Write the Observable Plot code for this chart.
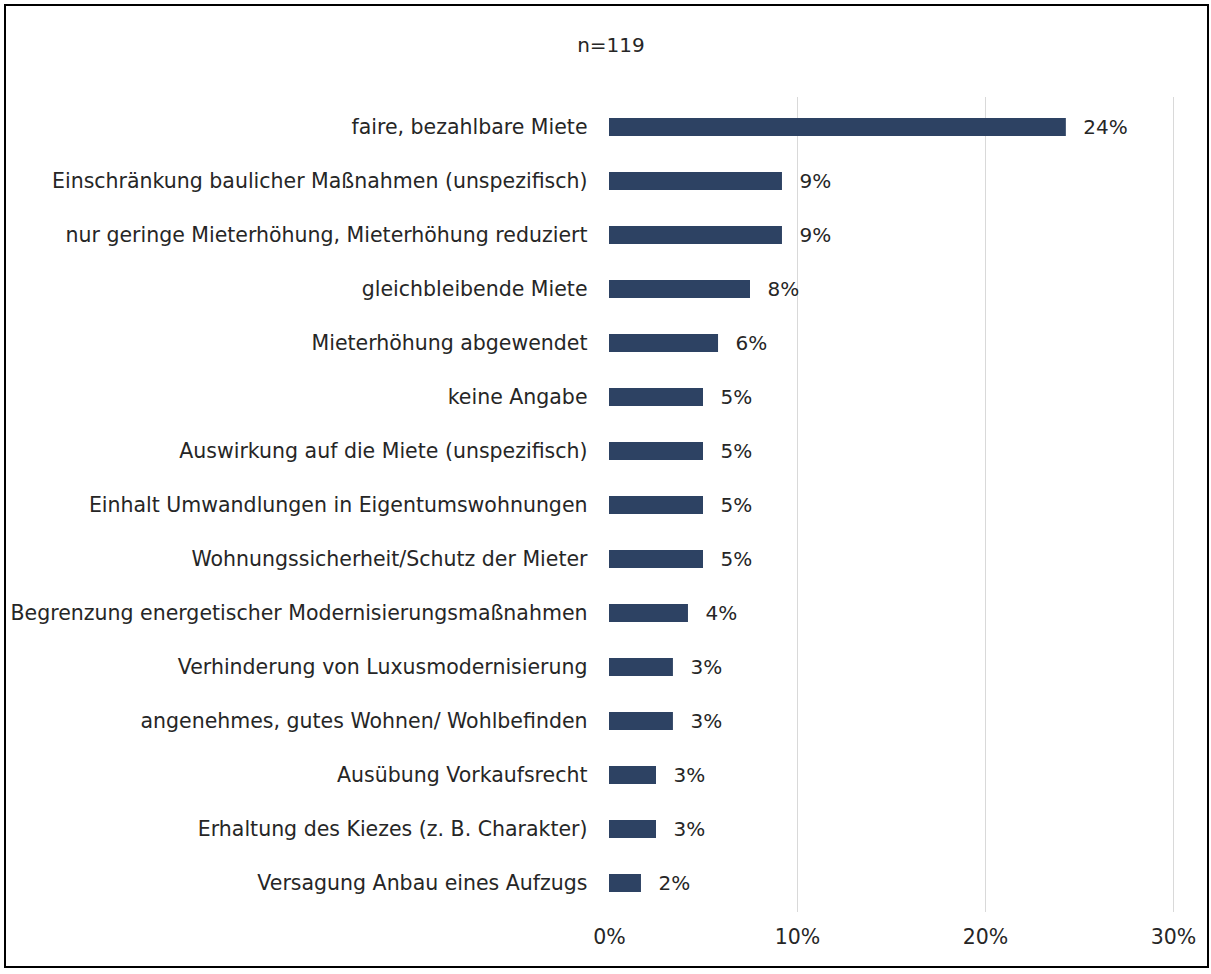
<!DOCTYPE html>
<html>
<head>
<meta charset="utf-8">
<script src="https://cdn.jsdelivr.net/npm/d3@7"></script>
<script src="https://cdn.jsdelivr.net/npm/@observablehq/plot@0.6"></script>
<style>
  html, body { margin: 0; padding: 0; background: #fff; }
  #wrap { position: relative; width: 1211px; height: 974px; overflow: hidden; font-family: "DejaVu Sans", sans-serif; }
  #frame { position: absolute; left: 4px; top: 4px; width: 1201px; height: 960px; border: 2px solid #000; box-sizing: content-box; pointer-events: none; }
  #title { position: absolute; left: 0; width: 1222px; top: 33px; text-align: center; font-size: 20px; color: #262626; }
  #chart { position: absolute; left: 0; top: 0; }
</style>
</head>
<body>
<div id="wrap">
  <div id="chart"></div>
  <div id="title">n=119</div>
  <div id="frame"></div>
</div>
<script>
const categories = [
  "faire, bezahlbare Miete",
  "Einschränkung baulicher Maßnahmen (unspezifisch)",
  "nur geringe Mieterhöhung, Mieterhöhung reduziert",
  "gleichbleibende Miete",
  "Mieterhöhung abgewendet",
  "keine Angabe",
  "Auswirkung auf die Miete (unspezifisch)",
  "Einhalt Umwandlungen in Eigentumswohnungen",
  "Wohnungssicherheit/Schutz der Mieter",
  "Begrenzung energetischer Modernisierungsmaßnahmen",
  "Verhinderung von Luxusmodernisierung",
  "angenehmes, gutes Wohnen/ Wohlbefinden",
  "Ausübung Vorkaufsrecht",
  "Erhaltung des Kiezes (z. B. Charakter)",
  "Versagung Anbau eines Aufzugs"
];
const values = [24.3, 9.2, 9.2, 7.5, 5.8, 5.0, 5.0, 5.0, 5.0, 4.2, 3.4, 3.4, 2.5, 2.5, 1.7];
const valueLabels = ["24%", "9%", "9%", "8%", "6%", "5%", "5%", "5%", "5%", "4%", "3%", "3%", "3%", "3%", "2%"];
const xTicks = [0, 10, 20, 30];
const xTickLabels = ["0%", "10%", "20%", "30%"];

const data = categories.map((c, i) => ({category: c, value: values[i], label: valueLabels[i]}));

const chart = Plot.plot({
  width: 1211,
  height: 974,
  marginLeft: 609,
  marginRight: 38,
  marginTop: 97,
  marginBottom: 62,
  style: {fontFamily: "DejaVu Sans, sans-serif", fontSize: "20.5px", color: "#262626", background: "transparent"},
  x: {domain: [0, 30], ticks: xTicks, tickFormat: (d) => xTickLabels[xTicks.indexOf(d)], tickSize: 0, tickPadding: 17, label: null},
  y: {domain: categories, paddingInner: 0.67, paddingOuter: 0.33, tickSize: 0, tickPadding: 22, label: null},
  marks: [
    Plot.gridX(xTicks.slice(1), {stroke: "#d9d9d9", strokeOpacity: 1, strokeWidth: 1}),
    Plot.barX(data, {x: "value", y: "category", fill: "#2d4263"}),
    Plot.text(data, {x: "value", y: "category", text: "label", dx: 17, textAnchor: "start", fill: "#262626", fontSize: 20})
  ]
});
document.getElementById("chart").appendChild(chart);
</script>
</body>
</html>
